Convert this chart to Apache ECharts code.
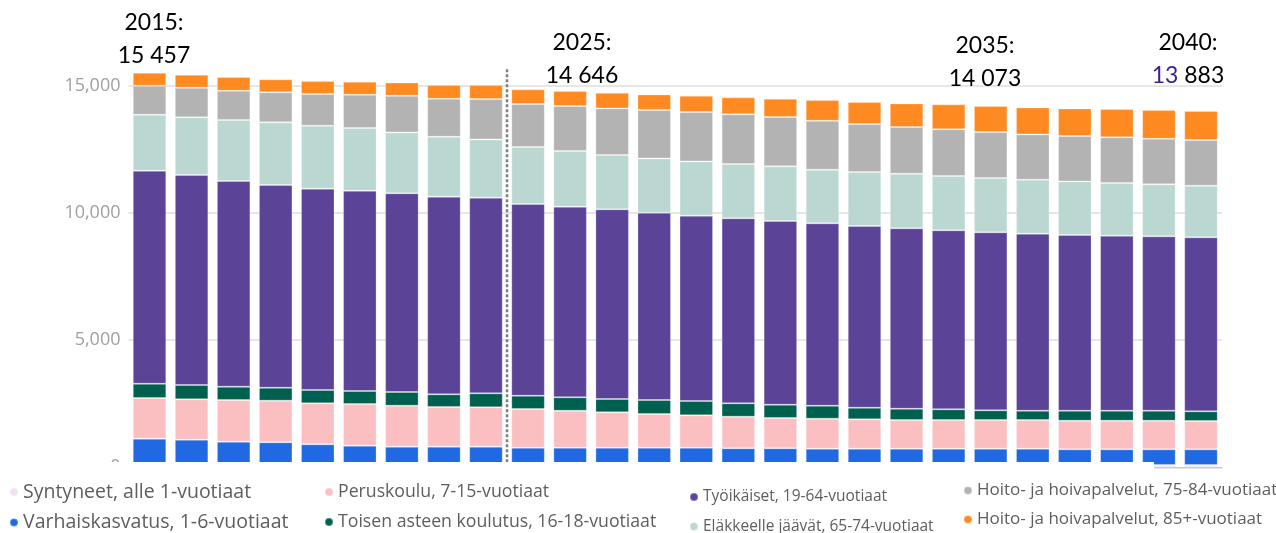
<!DOCTYPE html>
<html>
<head>
<meta charset="utf-8">
<script src="https://cdn.jsdelivr.net/npm/echarts@6/dist/echarts.min.js"></script>
<style>
  html, body { margin: 0; padding: 0; background: #fff; }
  #main { width: 1276px; height: 533px; }
</style>
</head>
<body>
<div id="main"></div>
<script>
  // vuodet
  var years = ['2015','2016','2017','2018','2019','2020','2021','2022','2023','2024','2025','2026','2027',
               '2028','2029','2030','2031','2032','2033','2034','2035','2036','2037','2038','2039','2040']
  var names = [
    'Syntyneet, alle 1-vuotiaat',
    'Varhaiskasvatus, 1-6-vuotiaat',
    'Peruskoulu, 7-15-vuotiaat',
    'Toisen asteen koulutus, 16-18-vuotiaat',
    'Työikäiset, 19-64-vuotiaat',
    'Eläkkeelle jäävät, 65-74-vuotiaat',
    'Hoito- ja hoivapalvelut, 75-84-vuotiaat',
    'Hoito- ja hoivapalvelut, 85+-vuotiaat'
  ]
  var syntyneet = [140,135,130,125,120,118,115,113,112,110,108,106,105,104,103,102,101,100,99,98,97,96,95,94,93,92]
  var varhais = [984,950,876,858,784,731,695,697,698,660,662,664,665,666,644,645,630,631,632,633,634,635,612,613,614,615]
  var perus = [1600,1588,1639,1635,1611,1639,1611,1560,1548,1521,1454,1391,1324,1273,1242,1191,1179,1155,1128,1128,1128,1128,1124,1124,1124,1112]
  var toinen = [562,562,523,511,523,511,538,499,550,523,527,523,550,562,527,523,511,456,444,421,381,365,393,393,393,381]
  var tyoikaiset = [8371,8253,8084,7966,7911,7872,7809,7766,7687,7534,7491,7455,7361,7282,7271,7219,7168,7141,7090,7035,6995,6956,6905,6878,6854,6838]
  var elakkeelle = [2201,2268,2397,2464,2476,2464,2397,2358,2295,2240,2189,2134,2138,2138,2134,2150,2106,2122,2146,2134,2134,2122,2110,2071,2044,2028]
  var hoito7584 = [1140,1163,1151,1179,1246,1309,1438,1493,1584,1690,1769,1835,1898,1937,1953,1937,1926,1886,1835,1835,1808,1784,1780,1796,1792,1796]
  var hoito85 = [511,511,538,511,511,511,527,538,550,578,590,613,617,641,668,719,814,865,931,983,1022,1061,1089,1112,1128,1140]

  var seriesData = [syntyneet, varhais, perus, toinen, tyoikaiset, elakkeelle, hoito7584, hoito85]
  var colors = ['#f3dff2','#2169e2','#fcbfc1','#00604f','#5b4398','#bbd7d2','#b3b3b3','#ff8a22']

  // tekstit kaavion yläpuolella
  var annoYears = ['2015:', '2025:', '2035:', '2040:']
  var annoTotals = ['15 457', '14 646', '14 073', '{p|13} 883']

  var yMax = 15680       // akselin yläraja
  var divider = 8.5      // katkoviiva 2023 ja 2024 välissä

  var FONT = '"Open Sans", Lato, sans-serif'

  var chart = echarts.init(document.getElementById('main'))

  var series = seriesData.map(function (d, i) {
    return {
      name: names[i],
      type: 'bar',
      stack: 'total',
      barWidth: 33.5,
      itemStyle: { color: colors[i], borderColor: 'rgba(255,255,255,0.25)', borderWidth: 1 },
      data: d
    }
  })
  series.push({
    name: 'raja',
    type: 'line',
    xAxisIndex: 1,
    symbol: 'none',
    silent: true,
    z: 5,
    lineStyle: { color: '#7f7f7f', width: 2.5, type: [3, 2] },
    data: [[divider, 0], [divider, yMax]]
  })

  function legend (idx, left, top, size, gap) {
    return {
      data: idx.map(function (i) { return names[i] }),
      orient: 'vertical',
      left: left,
      top: top,
      height: 80,
      padding: 0,
      icon: 'circle',
      itemWidth: 8,
      itemHeight: 8,
      itemGap: gap,
      selectedMode: false,
      textStyle: { fontSize: size, color: '#605e5c', fontFamily: FONT }
    }
  }

  var annX = [154, 582, 985, 1188]
  var annY = [23, 43, 46, 43]
  var graphics = []
  annoYears.forEach(function (t, i) {
    graphics.push({
      type: 'text', x: annX[i], y: annY[i], z: 100,
      style: { text: t, font: '23px Lato', fill: '#000', align: 'center', verticalAlign: 'middle',
               textAlign: 'center', textVerticalAlign: 'middle' }
    })
    graphics.push({
      type: 'text', x: annX[i], y: annY[i] + 33, z: 100,
      style: { text: annoTotals[i], font: '23px Lato', fill: '#000', align: 'center', verticalAlign: 'middle',
               textAlign: 'center', textVerticalAlign: 'middle',
               rich: { p: { fill: '#3d1f91', font: '23px Lato' } } }
    })
  })
  // alareuna on leikattu kuvassa
  graphics.push({
    type: 'rect', z: 100,
    shape: { x: 0, y: 462, width: 1154, height: 20 },
    style: { fill: '#fff' }
  })

  chart.setOption({
    animation: false,
    grid: { left: 128.5, right: 54, top: 68.4, bottom: 65.7 },
    legend: [
      legend([0, 1], 9, 482, 19.5, 10.5),
      legend([2, 3], 324, 483, 17.7, 12),
      legend([4, 5], 689, 489, 15.5, 13.5),
      legend([6, 7], 963, 482, 17, 12)
    ],
    xAxis: [
      {
        type: 'category',
        data: years,
        axisTick: { show: false },
        axisLabel: { show: false },
        axisLine: { lineStyle: { color: '#c8c8c8' } }
      },
      {
        type: 'value', min: -0.5, max: 25.5, show: false, position: 'bottom',
        axisLine: { show: false, onZero: false }, axisTick: { show: false },
        axisLabel: { show: false }, splitLine: { show: false }
      }
    ],
    yAxis: {
      type: 'value',
      min: 0,
      max: yMax,
      interval: 5000,
      axisLine: { show: false, onZero: false },
      axisTick: { show: false },
      axisLabel: {
        showMaxLabel: false,
        fontSize: 18,
        color: '#a0a0a0',
        fontFamily: FONT,
        margin: 8,
        formatter: function (v) { return v.toLocaleString('en-US') }
      },
      splitLine: { showMaxLine: false, lineStyle: { color: '#dedede', width: 1.5 } }
    },
    graphic: graphics,
    series: series
  })
</script>
</body>
</html>
